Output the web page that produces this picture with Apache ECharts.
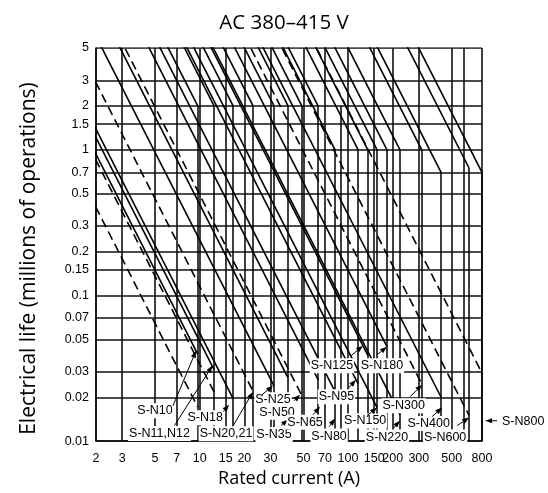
<!DOCTYPE html>
<html><head><meta charset="utf-8">
<script src="https://cdn.jsdelivr.net/npm/echarts@6/dist/echarts.min.js"></script>
<style>html,body{margin:0;padding:0;background:#fff}#c{width:548px;height:493px}</style>
</head><body><div id="c"></div>
<script>
// ---- axis ticks ----
const xTicks = [2,3,5,7,10,15,20,30,50,70,100,150,200,300,500,800];
const xGridExtra = [600];
const yTicks = [0.01,0.02,0.03,0.05,0.07,0.1,0.15,0.2,0.3,0.5,0.7,1,1.5,2,3,5];

// ---- models: rated current (vertical drop) and life where each line ends ----
const models = ['S-N10','S-N11,N12','S-N18','S-N20,21','S-N25','S-N35','S-N50','S-N65','S-N80','S-N95','S-N125','S-N150','S-N180','S-N220','S-N300','S-N400','S-N600','S-N800'];
const ratedCurrent = [9.7,12.5,16.8,22.9,31.7,39.4,48.8,62.8,81.8,117,136,157,183,224,314,424,654,800];
const upperEndLife = [2,2,2,2,2,2,2,2,1,1,1,1,1,1,1,0.7,0.75,0.7];
const lowerEndLife = [0.0396,0.031,0.0196,0.022,0.0239,0.0272,0.0206,0.0264,0.0219,0.0247,0.0388,0.017,0.0445,0.0152,0.0247,0.020,0.015,0.0293];
const lowerDashed = [0,0,0,1,0,0,1,0,0,0,0,0,0,0,1,0,1,1];
// extra lines (end current / end life) and extra vertical drop
const extraLineCurrent = [9.7,12.5];
const extraLineLife = [0.0171,0.0217];
const extraDropCurrent = [89.8];
const LIFE_EXPONENT = -2; // life ∝ current^-2

// ---- annotation arrow tips (current, life) ----
const annoText = ['S-N10','S-N11,N12','S-N18','S-N20,21','S-N25','S-N35','S-N50','S-N65','S-N80','S-N95','S-N125','S-N150','S-N180','S-N220','S-N300','S-N400','S-N600','S-N800'];
const annoTipCurrent = [9.45,12.2,15.8,22.9,31.2,39.4,47.5,64.8,81.8,113,126,157,183,224,316,431,655,840];
const annoTipLife = [0.0417,0.033,0.0178,0.0218,0.024,0.01405,0.0208,0.01724,0.01428,0.02638,0.0451,0.017,0.0444,0.01383,0.0244,0.017,0.0145,0.0138];

// layout of annotations (pixel offsets from tip): label centre, arrow start
const annoLayout = {
 'S-N10':[[-41,60],[-23,55]], 'S-N11,N12':[[-53,68],[-38,60]], 'S-N18':[[-24,13],[-6,7]],
 'S-N20,21':[[-27,42],[-20,34]], 'S-N25':[[0,14],[-11,9]], 'S-N35':[[-14,15],[-7,6]],
 'S-N50':[[-23,17.5],[-6,6]], 'S-N65':[[-15,15.5],[-7,8]], 'S-N80':[[-6,17.5],[-6,8]],
 'S-N95':[[-19.5,17],[-8,9]], 'S-N125':[[-31,20],[-12,10]], 'S-N150':[[-12,13.5],[-10,8]],
 'S-N180':[[-5,19],[-10,8]], 'S-N220':[[-13,16.5],[-7,8]], 'S-N300':[[-18.5,21],[-12,12]],
 'S-N400':[[-13.5,16],[-10,9]], 'S-N600':[[-24,19.5],[-12,8]], 'S-N800':[[38,1],[12,0]]
};

const X_MIN = 2, X_MAX = 800, Y_MIN = 0.01, Y_MAX = 5;

function diag(endI, endL, dashed, width) {
  // extend the straight log-log line up-left beyond the frame (clipped by chart)
  let startI = endI * Math.pow(6 / endL, 1 / LIFE_EXPONENT);
  if (startI < 1.8) startI = 1.8;
  const startL = endL * Math.pow(startI / endI, LIFE_EXPONENT);
  return { coords: [[startI, startL], [endI, endL]],
    lineStyle: { type: dashed ? [9, 5] : 'solid', width: width || 1.6 } };
}

const gridData = [];
xTicks.concat(xGridExtra).forEach(v => gridData.push({coords: [[v, Y_MIN], [v, Y_MAX]]}));
yTicks.forEach(v => gridData.push({coords: [[X_MIN, v], [X_MAX, v]]}));

const curveData = [];
models.forEach((m, i) => {
  curveData.push(diag(ratedCurrent[i], upperEndLife[i], false));
  curveData.push(diag(ratedCurrent[i], lowerEndLife[i], lowerDashed[i]));
  curveData.push({coords: [[ratedCurrent[i], upperEndLife[i]], [ratedCurrent[i], Y_MIN]], lineStyle: {type: 'solid', width: 1.5}});
});
extraLineCurrent.forEach((c, i) => curveData.push(diag(c, extraLineLife[i], true)));
extraDropCurrent.forEach(c => curveData.push({coords: [[c, 2], [c, Y_MIN]], lineStyle: {type: 'solid', width: 1.5}}));

const annoData = annoText.map((t, i) => [annoTipCurrent[i], annoTipLife[i], i]);

const chart = echarts.init(document.getElementById('c'), null, {renderer: 'canvas'});
const tickFont = '"Liberation Sans", Arial, sans-serif';
const titleFont = '"Open Sans", sans-serif';
chart.setOption({
  animation: false,
  backgroundColor: '#fff',
  title: { text: 'AC 380–415 V', left: 279, top: 8, textAlign: 'center',
    textStyle: { fontFamily: titleFont, fontWeight: 'normal', fontSize: 20.5, color: '#000' } },
  grid: { left: 96, right: 66, top: 48, bottom: 50 },
  xAxis: { type: 'log', logBase: 10, min: X_MIN, max: X_MAX,
    name: 'Rated current (A)', nameLocation: 'middle', nameGap: 22,
    nameTextStyle: { fontFamily: titleFont, fontSize: 18, color: '#000' },
    axisLine: { show: true, lineStyle: { color: '#000', width: 1.5 } },
    axisTick: { show: false }, splitLine: { show: false }, minorSplitLine: {show:false},
    axisLabel: { customValues: xTicks, formatter: v => String(+v.toPrecision(6)), margin: 11,
      fontFamily: tickFont, fontSize: 12.5, color: '#000' } },
  yAxis: { type: 'log', logBase: 10, min: Y_MIN, max: Y_MAX,
    name: 'Electrical life (millions of operations)', nameLocation: 'middle', nameGap: 56,
    nameTextStyle: { fontFamily: titleFont, fontSize: 21, color: '#000', padding: [0, 28, 0, 0] },
    axisLine: { show: true, lineStyle: { color: '#000', width: 1.5 } },
    axisTick: { show: false }, splitLine: { show: false },
    axisLabel: { customValues: yTicks, formatter: v => String(+v.toPrecision(6)), margin: 7,
      fontFamily: tickFont, fontSize: 12.5, color: '#000' } },
  series: [
    { type: 'lines', coordinateSystem: 'cartesian2d', polyline: false, clip: true, silent: true,
      lineStyle: { color: '#111', width: 1.6, opacity: 1 }, data: gridData, z: 2 },
    { type: 'lines', coordinateSystem: 'cartesian2d', polyline: false, clip: true, silent: true,
      lineStyle: { color: '#000', width: 1.6, opacity: 1 }, data: curveData, z: 3 },
    { type: 'custom', coordinateSystem: 'cartesian2d', clip: false, silent: true, z: 5,
      encode: { x: 0, y: 1 }, data: annoData,
      renderItem: function (params, api) {
        const i = api.value(2);
        const p = api.coord([api.value(0), api.value(1)]);
        const lay = annoLayout[annoText[i]];
        const lx = p[0] + lay[0][0], ly = p[1] + lay[0][1];
        const sx = p[0] + lay[1][0], sy = p[1] + lay[1][1];
        const dx = p[0] - sx, dy = p[1] - sy, len = Math.sqrt(dx*dx + dy*dy) || 1;
        const ux = dx / len, uy = dy / len, hl = Math.min(7, len * 0.8), hw = 2.6;
        const bx = p[0] - ux * hl, by = p[1] - uy * hl;
        return { type: 'group', children: [
          { type: 'text', style: { text: annoText[i], x: lx, y: ly, align: 'center', verticalAlign: 'middle',
              font: '12.5px "Liberation Sans", Arial, sans-serif', fill: '#000', backgroundColor: '#fff', padding: [1, 1] } },
          { type: 'line', shape: { x1: sx, y1: sy, x2: bx, y2: by }, style: { stroke: '#000', lineWidth: 1 } },
          { type: 'polygon', shape: { points: [[p[0], p[1]], [bx - uy * hw, by + ux * hw], [bx + uy * hw, by - ux * hw]] },
            style: { fill: '#000' } }
        ]};
      } }
  ]
});
</script></body></html>
